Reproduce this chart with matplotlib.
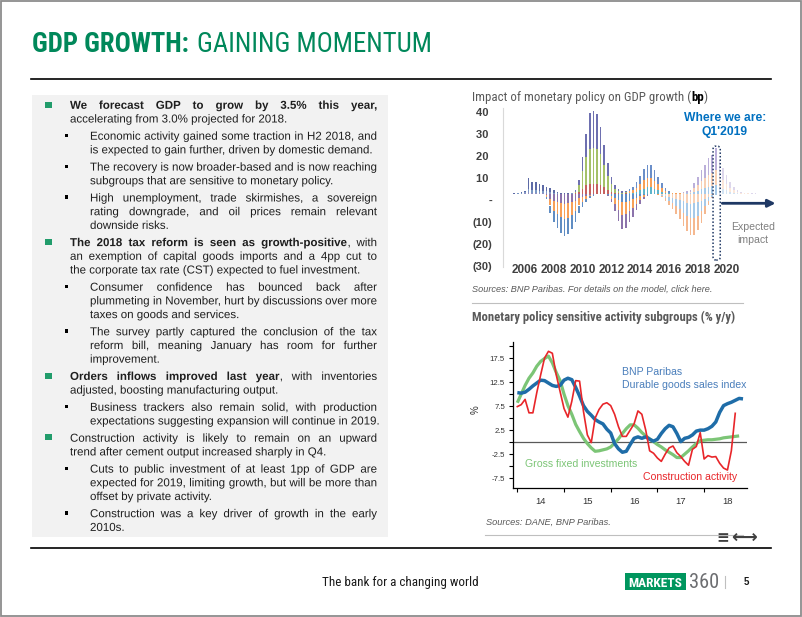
import numpy as np
import matplotlib
matplotlib.use("Agg")
import matplotlib.pyplot as plt
import matplotlib.patheffects as pe
from matplotlib import font_manager as fm
from matplotlib.patches import Rectangle, FancyBboxPatch
from matplotlib.colors import to_rgba

# ---------------- data ----------------
# top chart: quarterly impact (bp), 2005Q1 .. 2021Q4, stacked in three layers
quarters = [f"{y}Q{q}" for y in range(2005, 2022) for q in range(1, 5)]
pos_inner = [0.0, 0.1, 0.2, 0.3, 0.8, 0.6, 0.6, 0.5, 0.5, 0.4,
             0.3, 0.2, 0.1, 0.1, 0.0, 0.0, 0.1, 0.3, 1.0, 2.5,
             4.0, 4.5, 4.5, 4.5, 4.0, 3.0, 2.0, 1.0, 0.6, 0.3,
             0.2, 0.3, 0.5, 0.7, 1.1, 1.8, 2.5, 3.0, 3.0, 2.5,
             1.8, 1.1, 0.6, 0.3, 0.2, 0.1, 0.1, 0.2, 0.3, 0.4,
             1.0, 1.6, 2.2, 2.7, 3.3, 3.6, 4.2, 3.1, 2.3, 1.7,
             1.1, 0.7, 0.4, 0.2, 0.1, 0.1, 0.1, 0.1]
pos_mid = [0.1, 0.2, 0.3, 0.5, 1.5, 1.2, 1.2, 1.0, 0.9, 0.8,
           0.6, 0.4, 0.2, 0.1, 0.1, 0.1, 0.2, 0.8, 3.0, 8.0,
           13.0, 16.0, 16.5, 16.0, 14.0, 10.0, 6.0, 3.5, 1.8, 1.0,
           0.5, 0.5, 0.8, 1.1, 1.8, 2.8, 3.8, 4.5, 4.4, 3.6,
           2.6, 1.6, 0.9, 0.4, 0.2, 0.2, 0.2, 0.3, 0.4, 0.6,
           1.6, 2.6, 3.6, 4.4, 5.4, 5.9, 6.9, 5.1, 3.9, 2.9,
           1.8, 1.1, 0.6, 0.3, 0.2, 0.2, 0.1, 0.1]
pos_outer = [0.2, 0.3, 0.5, 0.8, 5.0, 3.5, 3.5, 3.0, 2.7, 2.2,
             1.7, 1.2, 0.6, 0.3, 0.2, 0.2, 0.2, 0.7, 2.3, 6.3,
             10.3, 16.3, 16.8, 15.8, 12.3, 9.3, 6.3, 3.3, 1.9, 1.0,
             0.6, 0.7, 1.0, 1.5, 2.4, 3.7, 5.0, 5.8, 5.7, 4.7,
             3.4, 2.2, 1.1, 0.6, 0.3, 0.2, 0.3, 0.4, 0.6, 0.8,
             2.3, 3.7, 5.1, 6.2, 7.6, 8.3, 9.7, 7.3, 5.5, 4.1,
             2.7, 1.5, 0.8, 0.4, 0.3, 0.2, 0.2, 0.1]
neg_inner = [0, 0, 0, 0, 0, 0, 0, 0, 0, -0.6,
             -2.2, -3.0, -3.5, -4.0, -4.3, -4.2, -3.6, -3.0, -2.0, -1.3,
             -0.9, -0.4, -0.2, -0.1, 0.0, -0.1, -0.2, -0.9, -1.8, -2.9,
             -3.6, -3.5, -3.0, -2.4, -1.7, -1.1, -0.5, -0.2, -0.1, -0.1,
             -0.1, -0.4, -0.7, -1.2, -1.6, -2.1, -2.6, -3.3, -3.9, -4.3,
             -4.2, -3.8, -3.0, -2.1, -1.2, -0.5, -0.1, 0, 0, 0,
             0, 0, 0, 0, 0, 0, 0, 0]
neg_mid = [0, 0, 0, 0, 0, 0, 0, 0, 0, -0.8,
           -3.0, -4.5, -5.5, -6.5, -7.0, -6.7, -5.8, -4.6, -3.2, -2.1,
           -1.3, -0.6, -0.2, -0.1, -0.1, -0.1, -0.2, -1.3, -2.8, -4.5,
           -5.8, -5.6, -4.6, -3.9, -2.6, -1.7, -0.8, -0.2, -0.1, -0.1,
           -0.2, -0.5, -1.1, -1.8, -2.6, -3.3, -4.2, -5.3, -6.2, -6.8,
           -6.8, -6.0, -4.7, -3.3, -1.8, -0.7, -0.2, 0, 0, 0,
           0, 0, 0, 0, 0, 0, 0, 0]
neg_outer = [0, 0, 0, 0, 0, 0, 0, 0, 0, -0.8,
             -3.5, -5.2, -6.2, -7.2, -7.6, -7.3, -6.3, -5.1, -3.5, -2.3,
             -1.5, -0.7, -0.3, -0.1, -0.1, -0.1, -0.3, -1.5, -3.1, -5.0,
             -6.3, -6.1, -5.1, -4.2, -2.9, -1.9, -0.9, -0.3, -0.1, -0.1,
             -0.2, -0.6, -1.2, -2.0, -2.8, -3.6, -4.7, -5.9, -6.9, -7.6,
             -7.5, -6.7, -5.3, -3.6, -2.0, -0.8, -0.2, 0, 0, 0,
             0, 0, 0, 0, 0, 0, 0, 0]
now_quarter = "2019Q1"
top_yticks = [-30, -20, -10, 0, 10, 20, 30, 40]
top_ylabels = ["(30)", "(20)", "(10)", "-", "10 ", "20 ", "30 ", "40 "]
top_xticks = [2006, 2008, 2010, 2012, 2014, 2016, 2018, 2020]

# bottom chart: monthly % y/y from Jan 2014
durable_goods = [10.3, 10.2, 10.4, 11.0, 11.7, 12.3, 12.9, 12.8, 12.3, 11.8,
                 11.6, 11.8, 12.9, 13.3, 13.0, 11.4, 9.6, 7.6, 6.4, 5.6,
                 4.7, 4.2, 3.8, 2.7, 1.9, -0.3, -1.4, -2.1, -1.9, -0.5,
                 0.8, 1.1, 0.8, 1.1, 0.6, 0.2, 0.6, 1.8, 2.8, 3.5,
                 3.2, 1.8, 0.1, 0.8, 1.0, 1.5, 2.3, 2.5, 2.5, 2.8,
                 3.3, 4.2, 6.2, 7.6, 8.0, 8.3, 8.7, 9.1, 9.0]
fixed_investment = [8.2, 10.0, 11.8, 13.3, 14.4, 15.8, 16.8, 17.4, 17.9, 16.5,
                    14.5, 12.8, 10.0, 7.6, 5.8, 3.7, 2.2, 0.8, -0.3, -1.2,
                    -1.9, -1.8, -1.6, -1.4, -1.0, -0.2, 0.7, 1.8, 2.8, 3.6,
                    3.6, 2.9, 2.0, 1.3, 0.7, 0.1, -0.5, -1.0, -1.6, -2.1,
                    -2.6, -3.2, -3.2, -2.5, -1.8, -1.0, -0.3, 0.3, 0.4, 0.5,
                    0.5, 0.6, 0.7, 0.9, 1.0, 1.1, 1.2, 1.3]
construction = [7.4, 7.8, 8.9, 6.1, 6.1, 10.3, 14.0, 17.5, 18.9, 18.5,
                14.0, 10.5, 7.0, 5.2, 8.5, 12.8, 12.7, 6.4, 1.5, -0.1,
                5.0, 6.8, 7.9, 8.2, 7.6, 5.8, 3.2, 1.2, 1.2, 2.5,
                3.8, 6.5, 5.8, 2.5, -1.8, -2.3, -3.3, -4.0, -2.5, -1.2,
                -0.8, -2.2, -3.0, -4.0, -4.8, -1.5, -0.9, 2.0, -3.5, -2.8,
                -3.1, -3.0, -4.4, -5.4, -5.8, -1.8, 6.0]
bottom_years = ["14", "15", "16", "17", "18"]
bottom_ylabels = {17.5: "17.5", 12.5: "12.5", 7.5: "7.5", 2.5: "2.5", -2.5: "-2.5", -7.5: "-7.5"}

PARAS = [
    (0, ["**We forecast GDP to grow by 3.5% this year,**",
         "accelerating from 3.0% projected for 2018."]),
    (1, ["Economic activity gained some traction in H2 2018, and",
         "is expected to gain further, driven by domestic demand."]),
    (1, ["The recovery is now broader-based and is now reaching",
         "subgroups that are sensitive to monetary policy."]),
    (1, ["High unemployment, trade skirmishes, a sovereign",
         "rating downgrade, and oil prices remain relevant",
         "downside risks."]),
    (0, ["**The 2018 tax reform is seen as growth-positive**, with",
         "an exemption of capital goods imports and a 4pp cut to",
         "the corporate tax rate (CST) expected to fuel investment."]),
    (1, ["Consumer confidence has bounced back after",
         "plummeting in November, hurt by discussions over more",
         "taxes on goods and services."]),
    (1, ["The survey partly captured the conclusion of the tax",
         "reform bill, meaning January has room for further",
         "improvement."]),
    (0, ["**Orders inflows improved last year**, with inventories",
         "adjusted, boosting manufacturing output."]),
    (1, ["Business trackers also remain solid, with production",
         "expectations suggesting expansion will continue in 2019."]),
    (0, ["Construction activity is likely to remain on an upward",
         "trend after cement output increased sharply in Q4."]),
    (1, ["Cuts to public investment of at least 1pp of GDP are",
         "expected for 2019, limiting growth, but will be more than",
         "offset by private activity."]),
    (1, ["Construction was a key driver of growth in the early",
         "2010s."]),
]

# ---------------- figure ----------------
W, H = 802, 617
plt.rcParams['font.family'] = ['Liberation Sans', 'DejaVu Sans']


def pick_narrow():
    # first installed condensed face, if any
    for fam in ['Liberation Sans Narrow', 'Roboto Condensed', 'Open Sans Condensed',
                'Noto Sans', 'DejaVu Sans', 'Open Sans', 'Roboto', 'Inter']:
        try:
            path = fm.findfont(fm.FontProperties(family=fam, stretch='condensed'),
                               fallback_to_default=False)
        except ValueError:
            continue
        if 'arrow' in path or 'ondensed' in path:
            return dict(family=[fam, 'DejaVu Sans'], stretch='condensed')
    return dict(family=['Liberation Sans', 'DejaVu Sans'])


NARROW = pick_narrow()
fig = plt.figure(figsize=(W / 100, H / 100), dpi=100)
renderer = fig.canvas.get_renderer()

GREEN = "#00885A"
BULLET_GREEN = "#219C6B"
GRAY_T = "#595959"


def fx(x):
    return x / W


def fy(y):
    return 1 - y / H


def text_w(s, **kw):
    t = fig.text(0, 0, s, **kw)
    w = t.get_window_extent(renderer).width
    t.remove()
    return w


def runs_fit(x, y, runs, target, size, gaps=None, va='center_baseline'):
    # place text runs one after another, scaled so total width == target
    gaps = gaps or [0] * len(runs)
    total = sum(text_w(s, fontsize=size, **kw) for s, kw in runs)
    size = size * (target - sum(gaps)) / total
    for (s, kw), g in zip(runs, gaps):
        fig.text(fx(x), fy(y), s, fontsize=size, va=va, **kw)
        x += text_w(s, fontsize=size, **kw) + g
    return size


def box(x0, y0, x1, y1, **kw):
    fig.add_artist(Rectangle((fx(x0), fy(y1)), (x1 - x0) / W, (y1 - y0) / H,
                             transform=fig.transFigure, **kw))


def hline(x0, x1, y, **kw):
    fig.add_artist(plt.Line2D([fx(x0), fx(x1)], [fy(y), fy(y)], transform=fig.transFigure, **kw))


# frame of the slide
box(1, 1, 800.5, 615.5, fill=False, ec="#8C8C8C", lw=1.3)

# title
runs_fit(32, 52, [("GDP GROWTH:", dict(NARROW, weight='bold', color=GREEN)),
                  ("GAINING MOMENTUM", dict(NARROW, color=GREEN))],
         target=400, size=18, gaps=[8, 0], va='baseline')
hline(31, 771, 79, color="black", lw=1.2)
hline(31, 771, 547.5, color="black", lw=1.2)

# ---------------- left text box ----------------
box(32, 95, 388, 537, color="#F2F2F2", lw=0)
FS = 8.3
TXT = "#1E1E1E"
X_RIGHT = 377
LINE_STEP = 13.7
PARA_GAP = 3.5
BASE_OFF = 3.8
# drawn as outlines so every word of a justified line sits on the same baseline
AS_PATH = [pe.Normal()]


def parse_words(line):
    chars = []
    for k, part in enumerate(line.split("**")):
        for ch in part:
            chars.append((ch, k % 2 == 1))
    words, cur = [], []
    for ch, b in chars:
        if ch == " ":
            if cur:
                words.append(cur)
                cur = []
        elif cur and cur[-1][1] == b:
            cur[-1] = (cur[-1][0] + ch, b)
        else:
            cur.append((ch, b))
    if cur:
        words.append(cur)
    return words


def wt(b):
    return 'bold' if b else 'normal'


def put_word(x, ybase, s, b):
    fig.text(fx(x), fy(ybase), s, fontsize=FS, color=TXT, va='baseline', weight=wt(b),
             path_effects=AS_PATH)


def draw_line(x0, y, line, justify):
    yb = y + BASE_OFF
    if not justify and "**" not in line:
        put_word(x0, yb, line, False)
        return
    words = parse_words(line)
    widths = [sum(text_w(s, fontsize=FS, weight=wt(b)) for s, b in wd) for wd in words]
    gap = (X_RIGHT - x0 - sum(widths)) / max(1, len(words) - 1)
    x = x0
    for wd, wdt in zip(words, widths):
        xx = x
        for s, b in wd:
            put_word(xx, yb, s, b)
            xx += text_w(s, fontsize=FS, weight=wt(b)) + 0.5
        x += wdt + gap


y = 105
for pi, (level, lines) in enumerate(PARAS):
    if pi:
        y += PARA_GAP
    if level == 0:
        box(44.5, y - 3.5, 51.5, y + 2.5, color=BULLET_GREEN, lw=0)
        x0 = 70
    else:
        box(64.5, y - 2.2, 68, y + 1.3, color="black", lw=0)
        x0 = 90
    for li, line in enumerate(lines):
        draw_line(x0, y, line, li < len(lines) - 1)
        y += LINE_STEP

# ---------------- top chart ----------------
runs_fit(472, 101, [("Impact of monetary policy on GDP growth (", dict(NARROW, color=GRAY_T)),
                    ("bp", dict(NARROW, color="black", weight='bold')),
                    (")", dict(NARROW, color=GRAY_T))],
         target=236, size=9, va='baseline')

ax1 = fig.add_axes([fx(503), fy(267.1), (762 - 503) / W, (267.1 - 107.6) / H])
BASE = 2.7
n = len(quarters)
xq = 2005.25 + np.arange(n) / 4
now_i = quarters.index(now_quarter)

pos_eps = [(0, 16, ["#8484BC", "#6C8EBF", "#4B5A9C"]),
           (17, 31, ["#C0504D", "#9BBB59", "#5E60A8"]),
           (32, 46, ["#4BACC6", "#F79646", "#5B83C4"]),
           (47, 67, ["#9DC3E6", "#F8CBAD", "#B4A7D6"])]
neg_eps = [(0, 24, ["#8064A2", "#F79646", "#4F81BD"]),
           (25, 40, ["#4F81BD", "#F79646", "#8064A2"]),
           (41, 67, ["#F8CBAD", "#9DC3E6", "#F4B183"])]


def layer_colors(eps, k):
    cols = []
    for i in range(n):
        for a, b, c in eps:
            if a <= i <= b:
                cols.append(to_rgba(c[k], 0.45 if i > now_i else 0.9))
    return cols


bw = 0.115
bottom = np.full(n, BASE)
for k, layer in enumerate([pos_inner, pos_mid, pos_outer]):
    ax1.bar(xq, layer, bw, bottom=bottom, color=layer_colors(pos_eps, k), lw=0)
    bottom = bottom + np.array(layer)
bottom = np.full(n, BASE)
for k, layer in enumerate([neg_inner, neg_mid, neg_outer]):
    ax1.bar(xq, layer, bw, bottom=bottom, color=layer_colors(neg_eps, k), lw=0)
    bottom = bottom + np.array(layer)

ax1.set_xlim(2004.47, 2022.46)
ax1.set_ylim(-30.5, 42)
for s in ["top", "right", "bottom"]:
    ax1.spines[s].set_visible(False)
ax1.spines["left"].set_color("#D9D9D9")
ax1.set_yticks(top_yticks)
ax1.set_yticklabels(top_ylabels)
ax1.set_xticks(top_xticks)
ax1.set_xticklabels([str(v) for v in top_xticks])
ax1.tick_params(axis='y', length=0, pad=8, labelsize=8, labelcolor="#404040")
ax1.tick_params(axis='x', length=0, pad=-2.5, labelsize=8.5, labelcolor="#404040")
for lab in ax1.get_xticklabels() + ax1.get_yticklabels():
    lab.set_fontweight('bold')
ax1.patch.set_alpha(0)

xn = xq[now_i]
ax1.add_patch(FancyBboxPatch((xn - 0.19, -27.3), 0.5, 51.8,
                             boxstyle="round,pad=0,rounding_size=0.22", mutation_aspect=6.5,
                             fill=False, ec="#1F3864", lw=1.1, ls=(0, (1, 1.3)), clip_on=False))
ax1.annotate("", xy=(2023.4, -1.5), xytext=(xn + 0.45, -1.5), annotation_clip=False,
             arrowprops=dict(arrowstyle="-|>", color="#1F3864", lw=2, mutation_scale=11,
                             shrinkA=0, shrinkB=0))
fig.text(fx(725), fy(118), "Where we are:", ha='center', va='center', color="#0070C0",
         weight='bold', fontsize=8.7)
fig.text(fx(725), fy(132), "Q1'2019", ha='center', va='center', color="#0070C0",
         weight='bold', fontsize=8.7)
fig.text(fx(753), fy(227), "Expected", ha='center', va='center', color="#808080", fontsize=7.6)
fig.text(fx(753), fy(240), "impact", ha='center', va='center', color="#808080", fontsize=7.6)

fig.text(fx(472), fy(289), "Sources: BNP Paribas. For details on the model, click here.",
         style='italic', color=GRAY_T, fontsize=6.6, va='center')
hline(472, 743, 303, color="#BFBFBF", lw=0.8)

# ---------------- bottom chart ----------------
runs_fit(472, 321, [("Monetary policy sensitive activity subgroups (% y/y)",
                     dict(NARROW, color=GRAY_T, weight='bold'))],
         target=265, size=9, va='baseline')

ax2 = fig.add_axes([fx(513.3), fy(488.3), (746.7 - 513.3) / W, (488.3 - 341.7) / H])
ax2.axhline(0, color="#595959", lw=0.9, zorder=1)
t_fi = 2014 + np.arange(len(fixed_investment)) / 12
t_dg = 2014 + np.arange(len(durable_goods)) / 12
t_co = 2014 + np.arange(len(construction)) / 12
ax2.plot(t_fi, fixed_investment, color="#7CC576", lw=2.3, zorder=2, solid_capstyle='butt')
ax2.plot(t_dg, durable_goods, color="#1F6DA8", lw=2.5, zorder=3, solid_capstyle='butt')
ax2.plot(t_co, construction, color="#E8262A", lw=1.2, zorder=4)

ax2.set_xlim(2013.914, 2018.912)
ax2.set_ylim(-9.6, 20.9)
for s in ["top", "right"]:
    ax2.spines[s].set_visible(False)
for s in ["left", "bottom"]:
    ax2.spines[s].set_linewidth(0.9)
yt = np.arange(-7.5, 20.1, 2.5)
ax2.set_yticks(yt)
ax2.set_yticklabels([bottom_ylabels.get(round(v, 1), "") for v in yt])
ax2.tick_params(axis='y', length=3, width=0.8, pad=3, labelsize=5.6, labelcolor="#333333")
ax2.set_xticks([2014, 2015, 2016, 2017, 2018])
ax2.set_xticklabels([])
ax2.set_xticks([2014.5, 2015.5, 2016.5, 2017.5, 2018.5], minor=True)
ax2.set_xticklabels(bottom_years, minor=True)
ax2.tick_params(axis='x', which='major', length=3, width=0.8)
ax2.tick_params(axis='x', which='minor', length=0, pad=6, labelsize=6.8, labelcolor="#333333")
ax2.patch.set_alpha(0)

ax2.text(2016.24, 14.5, "BNP Paribas", color="#4A7EBB", fontsize=7.6, va='center')
ax2.text(2016.24, 11.8, "Durable goods sales index", color="#4A7EBB", fontsize=7.6, va='center')
ax2.text(2014.165, -4.6, "Gross fixed investments", color="#7CC576", fontsize=7.6, va='center')
ax2.text(2016.70, -7.2, "Construction activity", color="#E8262A", fontsize=7.6, va='center')
fig.text(fx(476), fy(410), "%", rotation=90, ha='center', va='center', fontsize=7, color="#333333")

fig.text(fx(486), fy(522), "Sources: DANE, BNP Paribas.", style='italic', color=GRAY_T,
         fontsize=6.7, va='center')
hline(485, 743, 535, color="#BFBFBF", lw=0.8)
fig.text(fx(716), fy(538), "\u2261", family='DejaVu Sans', fontsize=11, color="#404040",
         va='center', weight='bold')
fig.text(fx(731), fy(538), "\u27f7", family='DejaVu Sans', fontsize=13, color="#404040",
         va='center', weight='bold')

# ---------------- footer ----------------
runs_fit(322, 586, [("The bank for a changing world", dict(NARROW, color="#1A1A1A"))],
         target=156, size=10, va='baseline')
box(625, 573, 685.5, 590, color="#00965E", lw=0)
runs_fit(628, 587, [("MARKETS", dict(NARROW, weight='bold', color="white"))],
         target=54, size=10, va='baseline')
runs_fit(688.5, 588, [("360", dict(NARROW, color="#6D6E71"))],
         target=30, size=12, va='baseline')
fig.add_artist(plt.Line2D([fx(725), fx(725)], [fy(588), fy(576)], transform=fig.transFigure,
                          color="#BFBFBF", lw=0.8))
fig.text(fx(746), fy(582), "5", weight='bold', fontsize=7, ha='center', va='center', color="#1A1A1A")

fig.savefig("out.png", dpi=100)
